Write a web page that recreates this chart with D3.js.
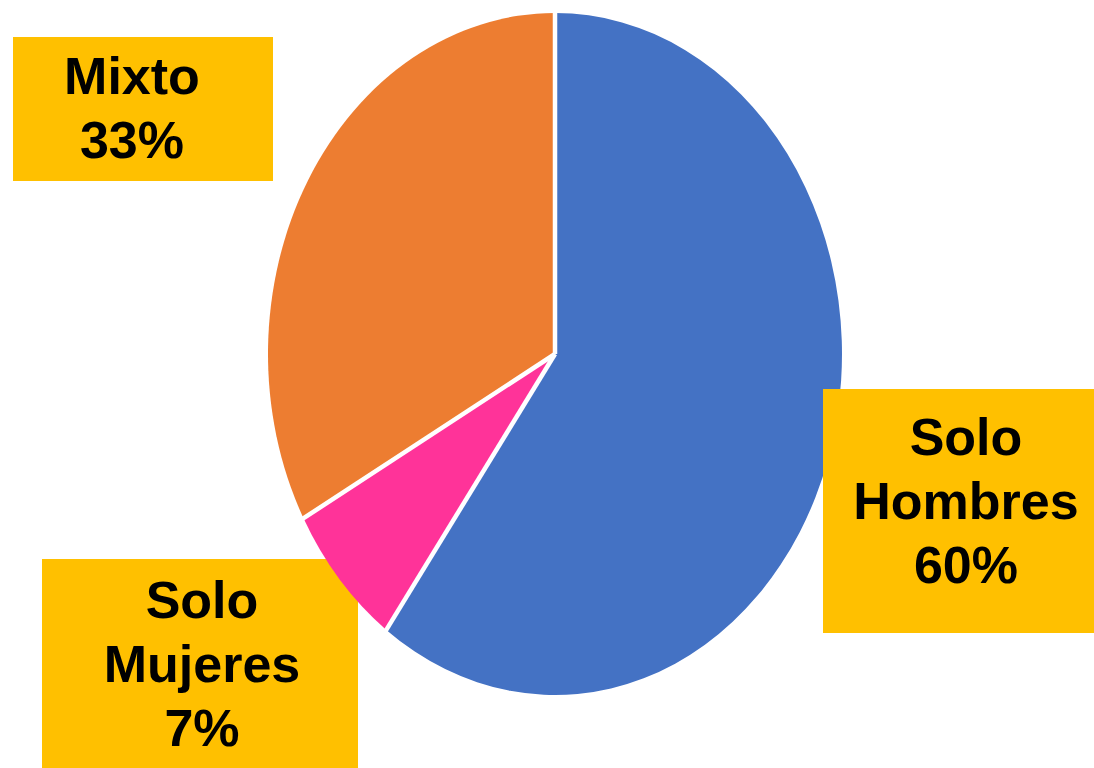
<!DOCTYPE html>
<html>
<head>
<meta charset="utf-8">
<script src="https://cdn.jsdelivr.net/npm/d3@7"></script>
<style>
  html, body { margin: 0; padding: 0; background: #fff; }
  svg { display: block; }
  text { font-family: "Liberation Sans", Arial, sans-serif; font-weight: bold; fill: #000; }
</style>
</head>
<body>
<svg id="chart" width="1094" height="768"></svg>
<script>
// Composition of groups
const categories = ["Solo Hombres", "Solo Mujeres", "Mixto"];
const values = [60, 7, 33];
const colors = ["#4472C4", "#FF3399", "#ED7D31"];
// Label lines (name split over lines) per category
const labelLines = [["Solo", "Hombres"], ["Solo", "Mujeres"], ["Mixto"]];

const W = 1094, H = 768;
const cx = 555, cy = 354, rx = 287, ry = 341;
const R = 100; // unit radius, stretched into an ellipse

const svg = d3.select("#chart");

const pie = d3.pie().sort(null).value(d => d)(values);
const arc = d3.arc().innerRadius(0).outerRadius(R);

// Label boxes: [x, y, w, h, textCenterX, firstBaseline]
const boxes = [
  { i: 0, x: 823, y: 389, w: 271, h: 244, tx: 966, ty: 455, above: true },
  { i: 1, x: 42, y: 559, w: 316, h: 209, tx: 202, ty: 618, above: false },
  { i: 2, x: 13, y: 37, w: 260, h: 144, tx: 132, ty: 94, above: true }
];

function drawBox(b) {
  const g = svg.append("g");
  g.append("rect").attr("x", b.x).attr("y", b.y).attr("width", b.w).attr("height", b.h)
    .attr("fill", "#FFC000");
  const lines = labelLines[b.i].concat([values[b.i] + "%"]);
  g.selectAll("text").data(lines).join("text")
    .attr("x", b.tx)
    .attr("y", (d, k) => b.ty + k * 64)
    .attr("text-anchor", "middle")
    .attr("font-size", 52)
    .text(d => d);
}

boxes.filter(b => !b.above).forEach(drawBox);

// Elliptical pie
const pieG = svg.append("g")
  .attr("transform", `translate(${cx},${cy}) scale(${rx / R},${ry / R})`);
pieG.selectAll("path.slice").data(pie).join("path")
  .attr("class", "slice")
  .attr("d", arc)
  .attr("fill", (d, i) => colors[i]);

// White separators between slices
pieG.selectAll("line.sep").data(pie).join("line")
  .attr("class", "sep")
  .attr("x1", 0).attr("y1", 0)
  .attr("x2", d => Math.sin(d.startAngle) * (R + 1))
  .attr("y2", d => -Math.cos(d.startAngle) * (R + 1))
  .attr("stroke", "#fff")
  .attr("stroke-width", 4.5)
  .attr("vector-effect", "non-scaling-stroke");

boxes.filter(b => b.above).forEach(drawBox);
</script>
</body>
</html>
